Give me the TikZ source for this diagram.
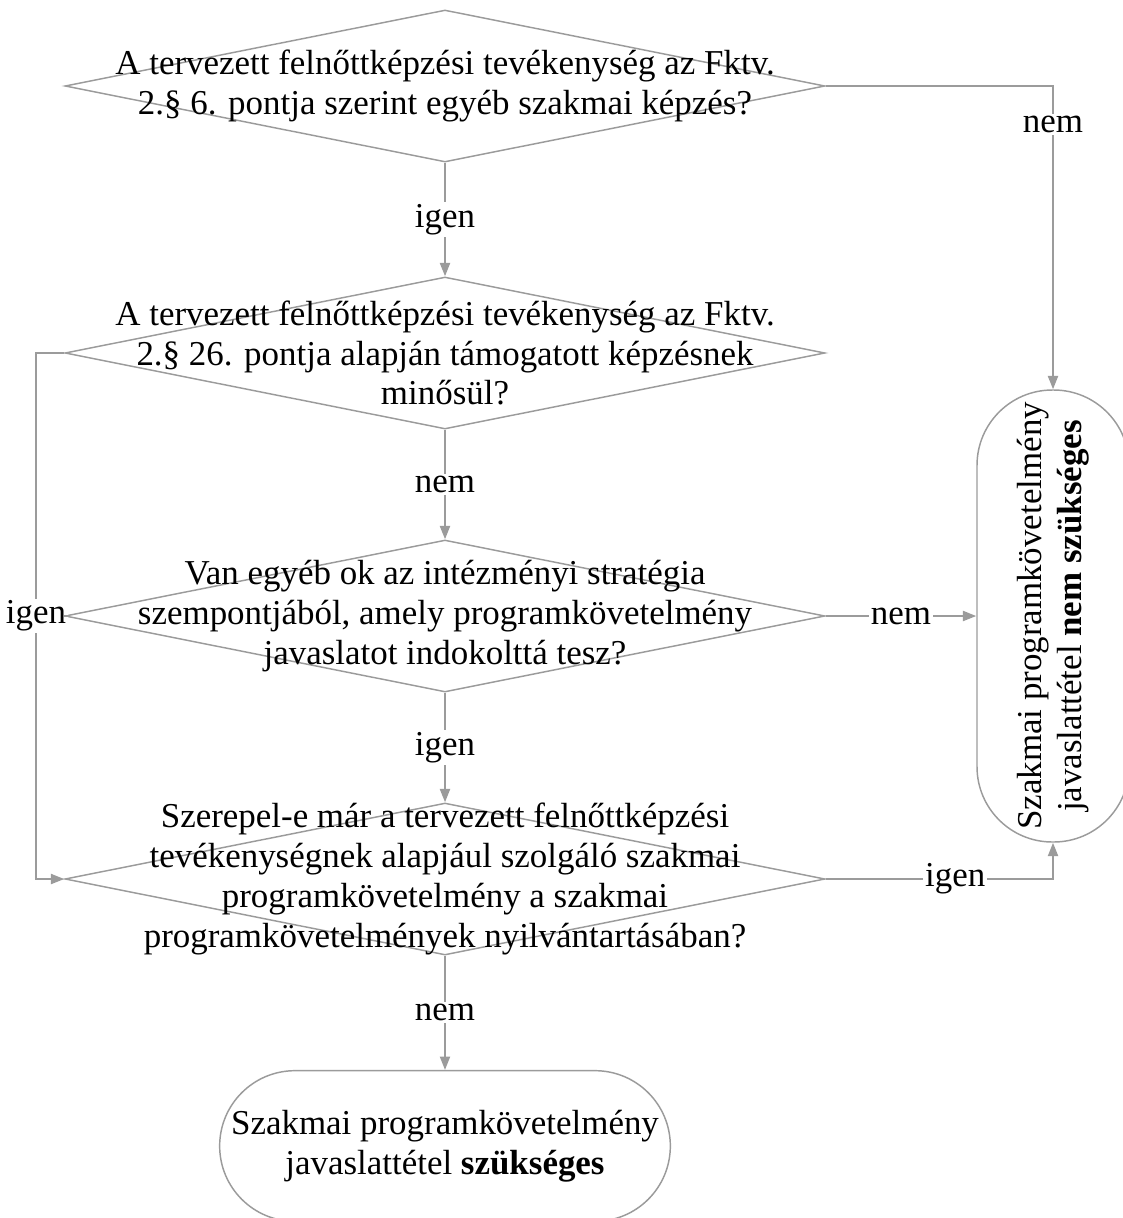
\documentclass[tikz,border=0pt]{standalone}
\usepackage{fontspec}
\setmainfont{Liberation Serif}
\usetikzlibrary{shapes.geometric,arrows.meta}
\definecolor{linegray}{RGB}{155,155,155}

\tikzset{every picture/.style={line width=0.75pt}}
\tikzset{
	decision/.style={draw=linegray, line width=1.1pt, diamond, minimum width=570pt, minimum height=114pt, inner sep=0pt},
	qtext/.style={align=center, font=\fontsize{26.2pt}{29.8pt}\selectfont, inner sep=0pt},
	terminal/.style={draw=linegray, line width=1.1pt, rectangle, rounded corners=56.5pt, inner sep=0pt},
	conn/.style={draw=linegray, line width=1.5pt, -{Triangle[length=10pt,width=7.5pt]}},
	plain/.style={draw=linegray, line width=1.5pt},
	lbl/.style={fill=white, text=black, font=\fontsize{26.2pt}{29.8pt}\selectfont, inner sep=1.5pt}
}

\begin{document}
\begin{tikzpicture}[x=0.75pt,y=0.75pt,yscale=-1,xscale=1]
	%set diagram size: 1123 wide, 1218 high
	\useasboundingbox (0,0) rectangle (1123,1218);
	
	%Shape: Diamond 
	\node[decision] (d1) at (445,86) {};
	\node[qtext] (q1) at (d1.center) {A tervezett felnőttképzési tevékenység az Fktv.\\2.§ 6. pontja szerint egyéb szakmai képzés?};
	%Shape: Diamond 
	\node[decision] (d2) at (445,353) {};
	\node[qtext] (q2) at (d2.center) {A tervezett felnőttképzési tevékenység az Fktv.\\2.§ 26. pontja alapján támogatott képzésnek\\minősül?};
	%Shape: Diamond 
	\node[decision] (d3) at (445,616) {};
	\node[qtext] (q3) at (d3.center) {Van egyéb ok az intézményi stratégia\\szempontjából, amely programkövetelmény\\javaslatot indokolttá tesz?};
	%Shape: Diamond 
	\node[decision] (d4) at (445,879) {};
	\node[qtext] (q4) at (d4.center) {Szerepel-e már a tervezett felnőttképzési\\tevékenységnek alapjául szolgáló szakmai\\programkövetelmény a szakmai\\programkövetelmények nyilvántartásában?};
	
	%Shape: Terminal 
	\node[terminal, qtext, minimum width=338pt, minimum height=113pt] (endy) at (445,1146) {Szakmai programkövetelmény\\javaslattétel \textbf{szükséges}};
	%Shape: Terminal 
	\node[terminal, minimum width=114pt, minimum height=339pt] (rt) at (1053,616) {};
	\node[qtext, rotate=90] (rtxt) at (rt.center) {Szakmai programkövetelmény\\javaslattétel \textbf{nem szükséges}};
	
	%Straight Lines 
	\draw[conn] (d1.south) -- node[lbl] {igen} (d2.north);
	%Straight Lines 
	\draw[conn] (d2.south) -- node[lbl] {nem} (d3.north);
	%Straight Lines 
	\draw[conn] (d3.south) -- node[lbl] {igen} (d4.north);
	%Straight Lines 
	\draw[conn] (d4.south) -- node[lbl] {nem} (endy.north);
	%Straight Lines 
	\draw[conn] (d1.east) -| node[lbl, pos=0.564] {nem} (rt.north);
	%Straight Lines 
	\draw[conn] (d3.east) -- node[lbl] {nem} (rt.west);
	%Straight Lines 
	\draw[conn] (d4.east) -| node[lbl, pos=0.285] {igen} (rt.south);
	%Straight Lines 
	\coordinate (lft) at (36,616);
	\draw[conn] (d2.west) -| (lft) |- (d4.west);
	\node[lbl] (igenl) at (lft) {igen};
	\draw[plain] (d3.west) -- (igenl);
	
\end{tikzpicture}
\end{document}
